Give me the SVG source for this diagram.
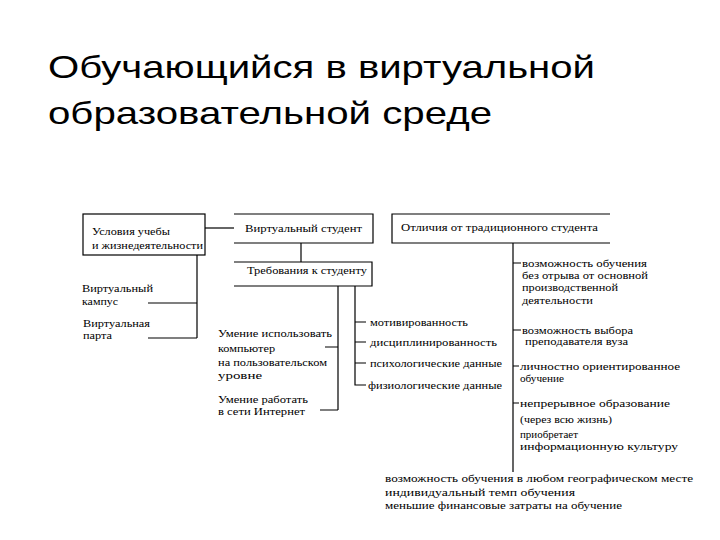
<svg xmlns="http://www.w3.org/2000/svg" width="720" height="540" viewBox="0 0 720 540">
<style>
.t{font-family:"Liberation Serif","Times New Roman",serif;font-size:11px;fill:#000}
.h{font-family:"Liberation Sans",Arial,sans-serif;font-size:32px;fill:#000}
.ln{stroke:#000;stroke-width:1.2;fill:none}
</style>
<rect width="720" height="540" fill="#fff"/>
<g id="title">
<text class="h" x="48" y="78" textLength="547" lengthAdjust="spacingAndGlyphs">Обучающийся в виртуальной</text>
<text class="h" x="48" y="124" textLength="444" lengthAdjust="spacingAndGlyphs">образовательной среде</text>
</g>
<g id="connectors" class="ln">
<path d="M205 228H234"/>
<path d="M301 243V262"/>
<path d="M197 255V338M148 303H197M148 338H197"/>
<path d="M338 286V410M325 347H338M320 410H338"/>
<path d="M355 286V385H366M355 322H366M355 342H366M355 363H366"/>
<path d="M513 243V472M513 263H521M513 330H521M513 366H519M513 403H519"/>
</g>
<g id="node-usloviya">
<rect class="ln" x="83" y="214" width="122" height="41"/>
<text class="t" x="92" y="235" textLength="78" lengthAdjust="spacingAndGlyphs">Условия учебы</text>
<text class="t" x="92" y="249" textLength="111" lengthAdjust="spacingAndGlyphs">и жизнедеятельности</text>
</g>
<g id="node-virt-student">
<path class="ln" d="M234 214H373V243H234"/>
<text class="t" x="245" y="232" textLength="117" lengthAdjust="spacingAndGlyphs">Виртуальный студент</text>
</g>
<g id="node-trebovaniya">
<path class="ln" d="M234 262H372V286H234"/>
<text class="t" x="247" y="274" textLength="120" lengthAdjust="spacingAndGlyphs">Требования к студенту</text>
</g>
<g id="node-otlichiya">
<path class="ln" d="M610 214H392V243H610"/>
<text class="t" x="401" y="231" textLength="197" lengthAdjust="spacingAndGlyphs">Отличия от традиционного студента</text>
</g>
<g id="node-kampus">
<text class="t" x="82" y="292" textLength="71" lengthAdjust="spacingAndGlyphs">Виртуальный</text>
<text class="t" x="82" y="305" textLength="36" lengthAdjust="spacingAndGlyphs">кампус</text>
</g>
<g id="node-parta">
<text class="t" x="83" y="327" textLength="67" lengthAdjust="spacingAndGlyphs">Виртуальная</text>
<text class="t" x="83" y="339" textLength="29" lengthAdjust="spacingAndGlyphs">парта</text>
</g>
<g id="node-computer">
<text class="t" x="218" y="337" textLength="114" lengthAdjust="spacingAndGlyphs">Умение использовать</text>
<text class="t" x="218" y="352" textLength="57" lengthAdjust="spacingAndGlyphs">компьютер</text>
<text class="t" x="218" y="366" textLength="109" lengthAdjust="spacingAndGlyphs">на пользовательском</text>
<text class="t" x="218" y="379" textLength="44" lengthAdjust="spacingAndGlyphs">уровне</text>
</g>
<g id="node-internet">
<text class="t" x="218" y="403" textLength="90" lengthAdjust="spacingAndGlyphs">Умение работать</text>
<text class="t" x="218" y="415" textLength="87" lengthAdjust="spacingAndGlyphs">в сети Интернет</text>
</g>
<g id="node-qualities">
<text class="t" x="370" y="326" textLength="98" lengthAdjust="spacingAndGlyphs">мотивированность</text>
<text class="t" x="370" y="346" textLength="127" lengthAdjust="spacingAndGlyphs">дисциплинированность</text>
<text class="t" x="370" y="367" textLength="132" lengthAdjust="spacingAndGlyphs">психологические данные</text>
<text class="t" x="368" y="389" textLength="134" lengthAdjust="spacingAndGlyphs">физиологические данные</text>
</g>
<g id="node-differences">
<text class="t" x="522" y="267" textLength="125" lengthAdjust="spacingAndGlyphs">возможность обучения</text>
<text class="t" x="522" y="279" textLength="126" lengthAdjust="spacingAndGlyphs">без отрыва от основной</text>
<text class="t" x="522" y="291" textLength="96" lengthAdjust="spacingAndGlyphs">производственной</text>
<text class="t" x="522" y="304" textLength="71" lengthAdjust="spacingAndGlyphs">деятельности</text>
<text class="t" x="522" y="334" textLength="111" lengthAdjust="spacingAndGlyphs">возможность выбора</text>
<text class="t" x="525" y="345" textLength="103" lengthAdjust="spacingAndGlyphs">преподавателя вуза</text>
<text class="t" x="520" y="370" textLength="160" lengthAdjust="spacingAndGlyphs">личностно ориентированное</text>
<text class="t" x="520" y="382" textLength="44" lengthAdjust="spacingAndGlyphs">обучение</text>
<text class="t" x="520" y="407" textLength="150" lengthAdjust="spacingAndGlyphs">непрерывное образование</text>
<text class="t" x="520" y="423" textLength="92" lengthAdjust="spacingAndGlyphs">(через всю жизнь)</text>
<text class="t" x="520" y="438" textLength="58" lengthAdjust="spacingAndGlyphs">приобретает</text>
<text class="t" x="520" y="450" textLength="158" lengthAdjust="spacingAndGlyphs">информационную культуру</text>
</g>
<g id="node-bottom">
<text class="t" x="385" y="482" textLength="308" lengthAdjust="spacingAndGlyphs">возможность обучения в любом географическом месте</text>
<text class="t" x="385" y="496" textLength="190" lengthAdjust="spacingAndGlyphs">индивидуальный темп обучения</text>
<text class="t" x="385" y="509" textLength="237" lengthAdjust="spacingAndGlyphs">меньшие финансовые затраты на обучение</text>
</g>
</svg>
